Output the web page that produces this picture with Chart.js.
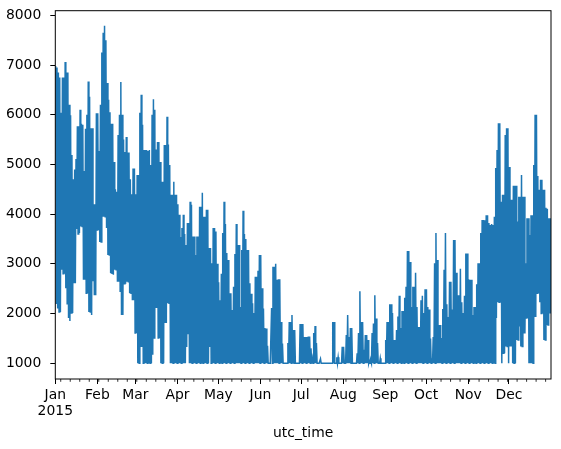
<!DOCTYPE html>
<html>
<head>
    <title>utc_time</title>
    <script src="https://cdn.jsdelivr.net/npm/chart.js"></script>
    <style>
        body { margin: 0; background: #fff; }
    </style>
</head>
<body>
    <canvas id="chart" width="561" height="449"></canvas>

    <script>
        // daily high / low, one value per day of 2015
        const dailyHigh = [
            6980, 6950, 6850, 6750, 6040, 6750, 6750, 7060, 6850, 6850,
            6200, 5990, 5190, 4700, 4900, 5110, 5770, 5770, 6100, 5820,
            5800, 4870, 5720, 6000, 6670, 6360, 5730, 5730, 4200, 4200,
            6030, 6030, 5270, 6200, 7250, 7650, 7790, 7500, 6640, 6300,
            6050, 5820, 5820, 5050, 4500, 4450, 5590, 6000, 6660, 6000,
            5500, 5250, 5550, 5240, 5240, 4700, 4400, 4920, 4920, 4400,
            4790, 4790, 6040, 6400, 5800, 5290, 5290, 5290, 5270, 5290,
            4990, 6000, 6310, 6100, 5300, 5450, 5450, 5050, 4650, 4650,
            5390, 5390, 5960, 5400, 4990, 4390, 4390, 4650, 4390, 4390,
            4200, 3990, 3540, 3720, 3990, 3600, 3380, 3820, 3820, 4250,
            4190, 3550, 3550, 3180, 3550, 3550, 4150, 4150, 4430, 3950,
            3950, 4090, 4090, 3320, 3320, 3010, 3720, 3720, 3650, 3000,
            2630, 2270, 2800, 3620, 4250, 3800, 3220, 3080, 2410, 2410,
            2070, 2540, 3200, 3800, 3380, 3380, 2130, 3280, 4070, 3600,
            3500, 3280, 3280, 2610, 2400, 2210, 2010, 2740, 2740, 2860,
            3180, 3180, 2510, 2100, 1710, 1700, 1350, 1000, 1000, 2110,
            2940, 2940, 3000, 2680, 2690, 2690, 1830, 1400, 1000, 1000,
            1000, 1410, 1830, 1830, 1970, 1670, 1670, 1000, 1000, 1000,
            1790, 1790, 1790, 1530, 1530, 1530, 1540, 1540, 1300, 1100,
            1610, 1750, 1410, 1000, 1000, 1090, 1000, 1000, 1000, 1000,
            1000, 1000, 1000, 1000, 1830, 1830, 1000, 1120, 1120, 1000,
            1000, 1330, 1330, 1000, 1570, 1970, 1530, 1710, 1710, 1000,
            1000, 1000, 1200, 1610, 2450, 1830, 1830, 1270, 1570, 1570,
            1470, 1050, 1050, 1610, 1800, 2370, 1900, 1410, 1000, 1100,
            1000, 1000, 1000, 1470, 1830, 1830, 2190, 2190, 2010, 1470,
            1470, 1670, 1940, 2360, 1710, 2050, 2050, 2320, 2540, 3260,
            3260, 3040, 2130, 2540, 2540, 2820, 2130, 1730, 1730, 2270,
            2360, 2010, 2490, 2490, 2130, 2080, 1500, 1100, 1530, 3010,
            3620, 3080, 1770, 1770, 1510, 2090, 2880, 3620, 2190, 1930,
            2640, 2640, 2080, 3480, 3480, 2820, 2370, 2370, 2900, 2230,
            2010, 2360, 3210, 3210, 2690, 2680, 2680, 1970, 2130, 2130,
            2590, 3010, 3010, 3620, 3880, 3880, 3880, 3980, 3980, 3820,
            3780, 3800, 3780, 3950, 4930, 5290, 5830, 5830, 4250, 4390,
            4390, 5590, 5730, 5730, 4950, 4290, 4290, 4570, 4570, 4570,
            3850, 4350, 4350, 4790, 4350, 4350, 3010, 3920, 3920, 3580,
            3980, 3980, 4990, 6000, 6000, 4770, 4490, 4690, 4690, 4490,
            4490, 4130, 4110, 3920, 3920
        ];

        const dailyLow = [
            2210, 2100, 2030, 2030, 2880, 2800, 2800, 2510, 2200, 1910,
            1850, 2010, 2010, 2610, 2610, 3700, 3600, 3620, 3750, 3750,
            2680, 2680, 2410, 2410, 2030, 2030, 1970, 2650, 2370, 2370,
            3680, 3680, 3440, 3440, 3950, 3950, 3950, 3720, 3180, 3180,
            2810, 2810, 2780, 2880, 2880, 2640, 2640, 2450, 1970, 1970,
            2600, 2600, 2640, 2640, 2410, 2410, 2270, 2270, 1610, 1610,
            1000, 1000, 1330, 1330, 1000, 1000, 1000, 1000, 1000, 1000,
            1000, 1170, 1510, 2110, 2110, 1510, 1510, 1000, 1000, 1000,
            1810, 1810, 2210, 2210, 1000, 1000, 1000, 1000, 1000, 1000,
            1000, 1000, 1000, 1000, 1000, 1000, 1330, 1600, 1000, 1000,
            1000, 1000, 1000, 1000, 1000, 1000, 1000, 1000, 1000, 1000,
            1000, 1000, 1000, 1330, 1000, 1000, 1000, 1000, 1000, 1000,
            1000, 1000, 1000, 1000, 1000, 1000, 1000, 1000, 1000, 1000,
            1000, 1000, 1000, 1000, 1000, 1000, 1000, 1000, 1000, 1000,
            1000, 1000, 1000, 1000, 1000, 1000, 1000, 1000, 1000, 1000,
            1000, 1000, 1000, 1000, 1000, 1000, 1000, 1000, 1000, 1000,
            1000, 1000, 1000, 1000, 1000, 1000, 1000, 1000, 1000, 1000,
            1000, 1000, 1000, 1000, 1000, 1000, 1000, 1000, 1000, 1000,
            1000, 1000, 1000, 1000, 1000, 1000, 1000, 1000, 1000, 1000,
            1000, 1000, 1000, 1000, 1000, 1000, 1000, 1000, 1000, 1000,
            1000, 1000, 1000, 1000, 1000, 1000, 1000, 1000, 1000, 1000,
            1000, 1000, 1000, 1000, 1000, 1000, 1000, 1000, 1000, 1000,
            1000, 1000, 1000, 1000, 1000, 1000, 1000, 1000, 1000, 1000,
            1000, 1000, 1000, 1000, 1000, 1000, 1000, 1000, 1000, 1000,
            1000, 1000, 1000, 1000, 1000, 1000, 1000, 1000, 1000, 1000,
            1000, 1000, 1000, 1000, 1000, 1000, 1000, 1000, 1000, 1000,
            1000, 1000, 1000, 1000, 1000, 1000, 1000, 1000, 1000, 1000,
            1000, 1000, 1000, 1000, 1000, 1000, 1000, 1000, 1000, 1000,
            1000, 1000, 1000, 1000, 1000, 1000, 1000, 1000, 1000, 1000,
            1000, 1000, 1000, 1000, 1000, 1000, 1000, 1000, 1000, 1000,
            1000, 1000, 1000, 1000, 1000, 1000, 1000, 1000, 1000, 1000,
            1000, 1000, 1000, 1000, 1000, 1000, 1000, 1000, 1000, 1000,
            1000, 1000, 1000, 1000, 1910, 2230, 2230, 2230, 1000, 1200,
            1200, 1340, 1340, 1000, 1340, 1340, 1000, 1000, 1000, 1470,
            1470, 1740, 1340, 1340, 1600, 1600, 1910, 1910, 1000, 1000,
            1000, 1000, 1930, 1930, 2410, 2410, 2230, 2000, 2000, 1470,
            1470, 1770, 1770, 2000, 2000
        ];

        // first day of each month (day of year) and labels
        const monthStarts = [0, 31, 59, 90, 120, 151, 181, 212, 243, 273, 304, 334];
        const monthLabels = ['Jan', 'Feb', 'Mar', 'Apr', 'May', 'Jun', 'Jul', 'Aug', 'Sep', 'Oct', 'Nov', 'Dec'];
        const yearLabel = '2015';
        const yTicks = [1000, 2000, 3000, 4000, 5000, 6000, 7000, 8000];

        // mondays get the small ticks (Jan 5 is the first one)
        const weekTicks = [];
        for (let d = 4; d < 365; d += 7) {
            if (!monthStarts.includes(d)) weekTicks.push(d);
        }

        // one point at the daily high, one at the daily low
        const points = [];
        for (let i = 0; i < dailyHigh.length; i++) {
            points.push({ x: i + 0.25, y: dailyHigh[i] });
            points.push({ x: i + 0.75, y: dailyLow[i] });
        }

        const frame = {
            id: 'frame',
            afterDraw(chart) {
                const ctx = chart.ctx;
                const a = chart.chartArea;
                const x = chart.scales.x;
                ctx.save();
                ctx.strokeStyle = '#000';
                ctx.lineWidth = 1;
                ctx.strokeRect(a.left, a.top, a.right - a.left, a.bottom - a.top);
                ctx.lineWidth = 0.8;
                weekTicks.forEach(d => {
                    const px = x.getPixelForValue(d);
                    ctx.beginPath();
                    ctx.moveTo(px, a.bottom);
                    ctx.lineTo(px, a.bottom + 2.8);
                    ctx.stroke();
                });
                ctx.restore();
            }
        };

        Chart.defaults.font.family = '"DejaVu Sans", sans-serif';
        Chart.defaults.font.size = 13.9;
        Chart.defaults.color = '#000';

        const ctx = document.getElementById('chart').getContext('2d');
        new Chart(ctx, {
            type: 'line',
            data: {
                datasets: [{
                    data: points,
                    borderColor: '#1f77b4',
                    borderWidth: 1.5,
                    pointRadius: 0,
                    tension: 0,
                    fill: false
                }]
            },
            options: {
                responsive: false,
                animation: false,
                devicePixelRatio: 1,
                layout: { padding: { left: 0, right: 10, top: 10.7, bottom: 0 } },
                plugins: {
                    legend: { display: false },
                    tooltip: { enabled: false }
                },
                scales: {
                    x: {
                        type: 'linear',
                        min: 0,
                        max: 364 + 23 / 24,
                        afterBuildTicks: scale => {
                            scale.ticks = monthStarts.map(v => ({ value: v }));
                        },
                        afterFit: scale => { scale.height = 70.0; },
                        ticks: {
                            autoSkip: false,
                            maxRotation: 0,
                            padding: 4,
                            font: { lineHeight: 1.1 },
                            callback: (value, index) => index === 0 ? [monthLabels[0], yearLabel] : monthLabels[index]
                        },
                        grid: {
                            drawOnChartArea: false,
                            drawTicks: true,
                            tickLength: 5,
                            color: '#000',
                            lineWidth: 1
                        },
                        border: { display: false },
                        title: {
                            display: true,
                            text: 'utc_time',
                            padding: { top: 0, bottom: 7 }
                        }
                    },
                    y: {
                        min: 684,
                        max: 8093,
                        afterBuildTicks: scale => {
                            scale.ticks = yTicks.map(v => ({ value: v }));
                        },
                        afterFit: scale => {
                            scale.width = 55.3;
                            // keep the plot top where the layout padding puts it
                            scale.paddingTop = 0;
                            scale.paddingBottom = 0;
                        },
                        ticks: {
                            padding: 9,
                            callback: value => String(value)
                        },
                        grid: {
                            drawOnChartArea: false,
                            drawTicks: true,
                            tickLength: 5,
                            color: '#000',
                            lineWidth: 1
                        },
                        border: { display: false }
                    }
                }
            },
            plugins: [frame]
        });
    </script>
</body>
</html>
